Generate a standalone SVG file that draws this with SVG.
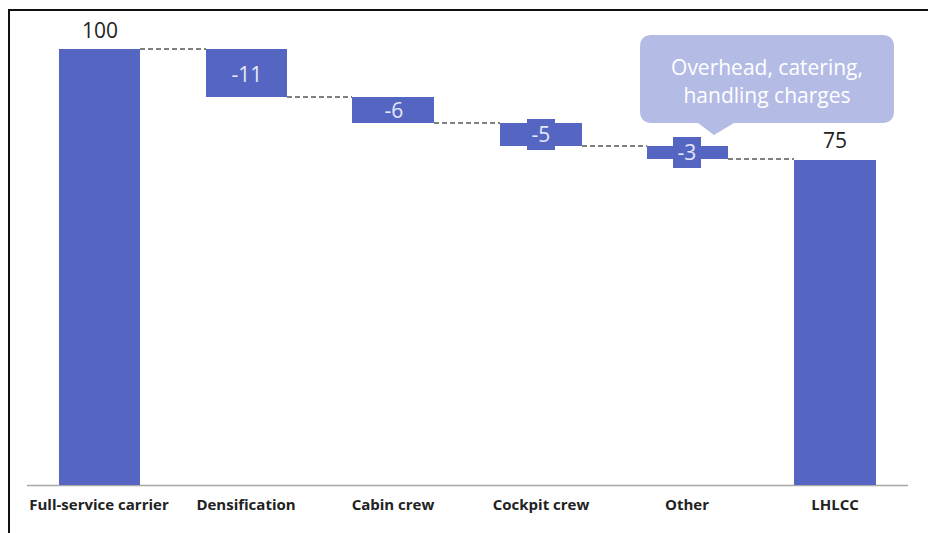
<svg xmlns="http://www.w3.org/2000/svg" width="928" height="533" viewBox="0 0 928 533">
<style>
.bar{fill:#5566c2}
.val{font-family:"Open Sans","Noto Sans",sans-serif;font-size:21px;fill:#222;text-anchor:middle}
.in{font-family:"Open Sans","Noto Sans",sans-serif;font-size:21px;fill:#e4e8f8;text-anchor:middle}
.cat{font-family:"Open Sans","Noto Sans",sans-serif;font-size:15px;font-weight:700;fill:#222;text-anchor:middle}
.dash{stroke:#555;stroke-width:1.3;stroke-dasharray:5 3;fill:none}
.call{font-family:"Open Sans","Noto Sans",sans-serif;font-size:21px;fill:#ffffff;text-anchor:middle}
</style>
<rect width="928" height="533" fill="#ffffff"/>
<path d="M9 533 V10 H928" fill="none" stroke="#111" stroke-width="2"/>
<g id="connectors">
<line class="dash" x1="140" y1="49" x2="206" y2="49"/>
<line class="dash" x1="287" y1="97" x2="352" y2="97"/>
<line class="dash" x1="434" y1="123" x2="500" y2="123"/>
<line class="dash" x1="582" y1="146" x2="647" y2="146"/>
<line class="dash" x1="728" y1="159" x2="794" y2="159"/>
</g>
<line x1="27" y1="485.5" x2="908" y2="485.5" stroke="#a8a8a8" stroke-width="1.5"/>
<g id="full-service">
<rect class="bar" x="59" y="49" width="81" height="436"/>
<text class="val" x="100" y="38">100</text>
<text class="cat" x="99" y="510">Full-service carrier</text>
</g>
<g id="densification">
<rect class="bar" x="206" y="49" width="81" height="48"/>
<text class="in" x="247" y="82">-11</text>
<text class="cat" x="246" y="510">Densification</text>
</g>
<g id="cabin-crew">
<rect class="bar" x="352" y="97" width="82" height="26"/>
<text class="in" x="394" y="118">-6</text>
<text class="cat" x="393" y="510">Cabin crew</text>
</g>
<g id="cockpit-crew">
<rect class="bar" x="500" y="123" width="82" height="23"/>
<rect class="bar" x="527" y="119" width="28" height="31"/>
<text class="in" x="541" y="142">-5</text>
<text class="cat" x="541" y="510">Cockpit crew</text>
</g>
<g id="other">
<rect class="bar" x="647" y="146" width="81" height="13"/>
<rect class="bar" x="673" y="137" width="28" height="31"/>
<text class="in" x="687" y="160">-3</text>
<text class="cat" x="687" y="510">Other</text>
</g>
<g id="lhlcc">
<rect class="bar" x="794" y="160" width="82" height="325"/>
<text class="val" x="835" y="148">75</text>
<text class="cat" x="835" y="510">LHLCC</text>
</g>
<g id="callout">
<path d="M652 35 H882 Q894 35 894 47 V111 Q894 123 882 123 H734 L714 135 L698 123 H652 Q640 123 640 111 V47 Q640 35 652 35 Z" fill="#b4bce6"/>
<text class="call" x="767" y="75">Overhead, catering,</text>
<text class="call" x="767" y="103">handling charges</text>
</g>
</svg>
